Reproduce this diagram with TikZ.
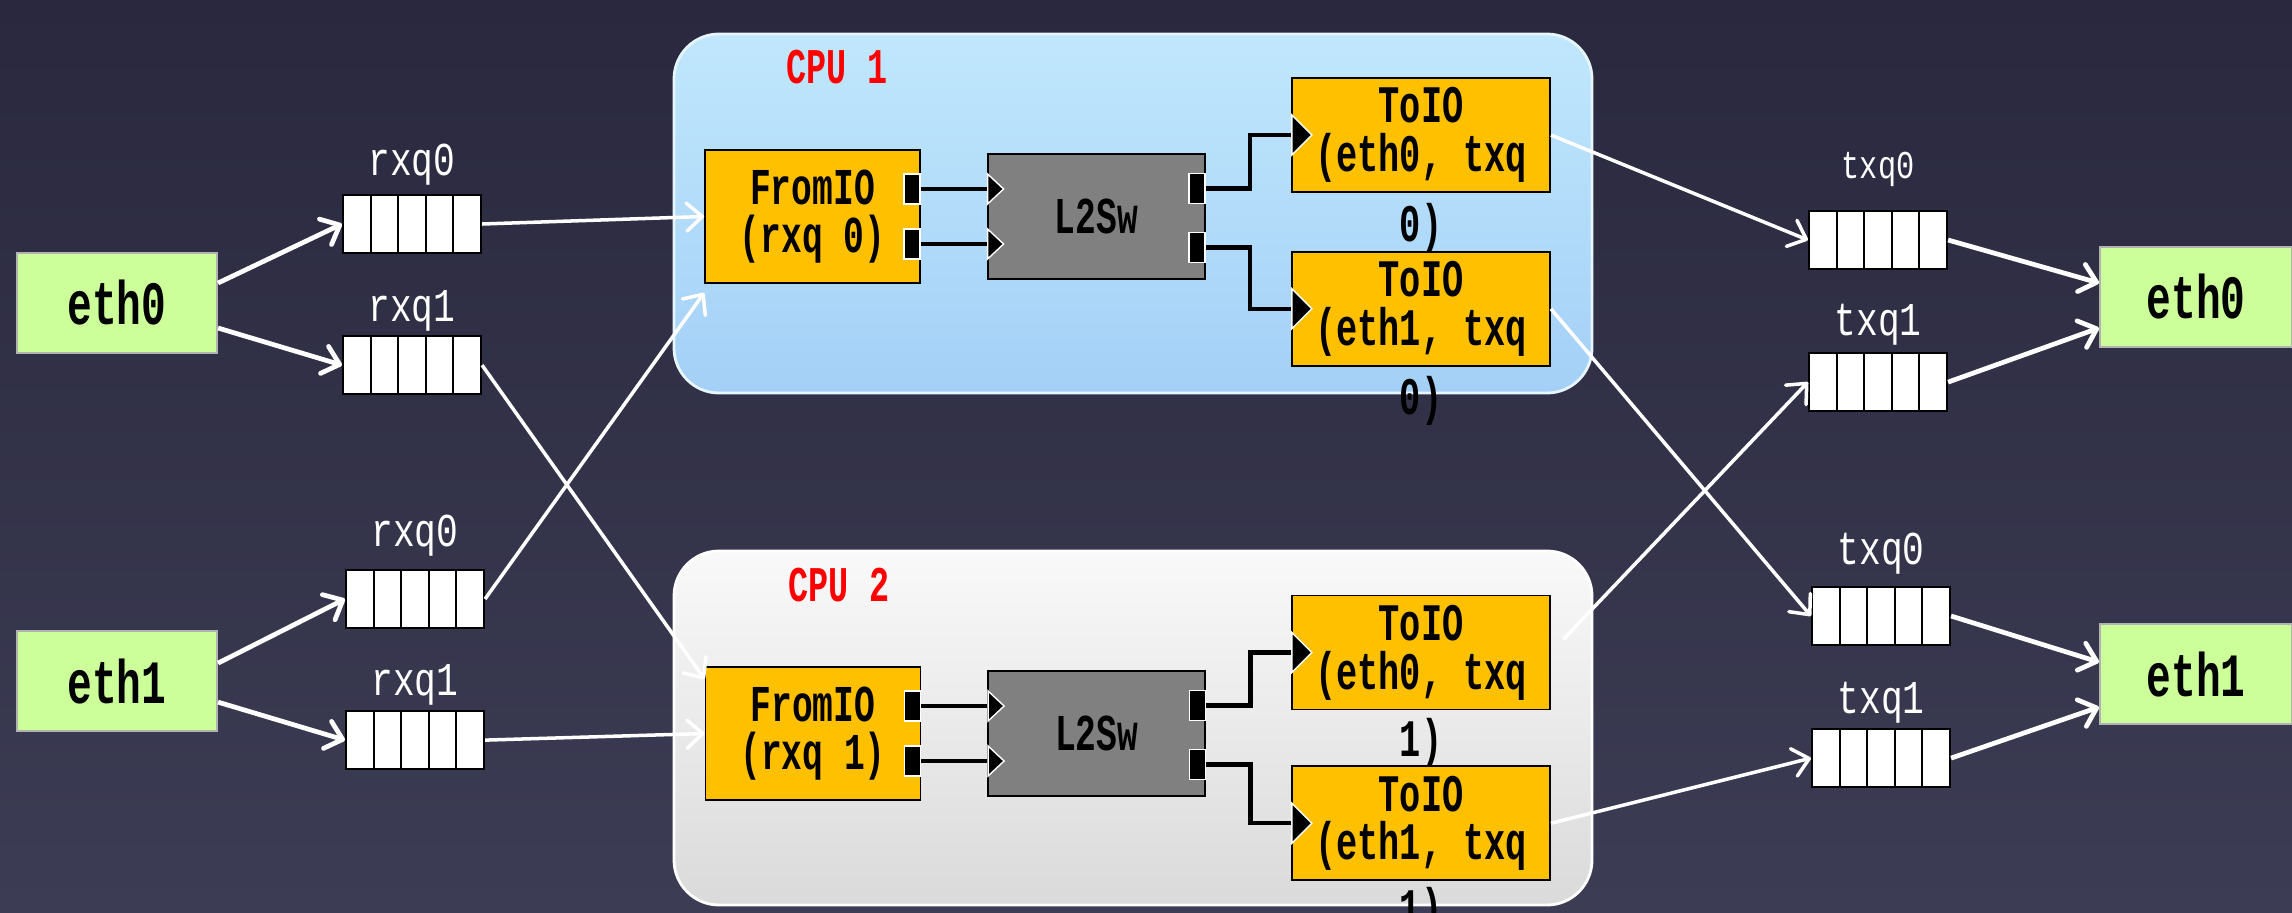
\documentclass[tikz,border=0pt]{standalone}
\usepackage{fontspec}
\setmainfont{Liberation Mono}[FakeStretch=0.67]
\newfontfamily\qfont{Liberation Mono}[FakeStretch=0.77]
\usetikzlibrary{arrows.meta,positioning,shapes.geometric}

\definecolor{bgtop}{RGB}{41,40,62}
\definecolor{bgbot}{RGB}{60,60,84}
\definecolor{cpuatop}{RGB}{192,231,252}
\definecolor{cpuabot}{RGB}{164,208,247}
\definecolor{cpubtop}{RGB}{249,249,249}
\definecolor{cpubbot}{RGB}{218,218,218}
\definecolor{elemorange}{RGB}{255,192,0}
\definecolor{ethgreen}{RGB}{204,255,153}

\begin{document}
\begin{tikzpicture}[>=Latex,node distance=0.8cm]
  \tikzstyle{eth}=[draw=gray!60,line width=0.6pt,fill=ethgreen,minimum width=2cm,minimum height=1cm,font=\bfseries\fontsize{17.5}{19}\selectfont]
  \tikzstyle{queue}=[draw=black,fill=white,line width=0.6pt,minimum width=1.38cm,minimum height=0.58cm,inner sep=0pt,
    path picture={\foreach \k in {1,...,4}
      \draw[line width=0.6pt] ([xshift=\k*0.276cm]path picture bounding box.south west) -- ([xshift=\k*0.276cm]path picture bounding box.north west);}]
  \tikzstyle{qlabel}=[text=white,inner sep=0pt,font=\qfont\fontsize{13.4}{15}\selectfont]
  \tikzstyle{cpubox}=[rounded corners=0.45cm,minimum width=9.18cm,line width=0.8pt]
  \tikzstyle{cpulabel}=[text=red,inner sep=0pt,font=\bfseries\fontsize{14.2}{16}\selectfont]
  \tikzstyle{elem}=[draw=black,line width=0.5pt,fill=elemorange,align=center,inner sep=0pt]
  \tikzstyle{fromio}=[elem,minimum width=2.15cm,minimum height=1.33cm,font=\bfseries\fontsize{14.7}{13.9}\selectfont]
  \tikzstyle{toio}=[elem,minimum width=2.58cm,minimum height=1.14cm,font=\bfseries\fontsize{15}{13.9}\selectfont]
  \tikzstyle{spill}=[inner sep=0pt,font=\bfseries\fontsize{15}{13.9}\selectfont]
  \tikzstyle{l2sw}=[draw=black,line width=0.5pt,fill=gray,minimum width=2.17cm,minimum height=1.25cm,font=\bfseries\fontsize{14.7}{13}\selectfont]
  \tikzstyle{port}=[draw=white,fill=black,line width=0.4pt,minimum width=0.16cm,minimum height=0.3cm,inner sep=0pt,anchor=east]
  \tikzstyle{inport}=[isosceles triangle,isosceles triangle stretches,draw=white,fill=black,line width=0.4pt,minimum width=0.3cm,minimum height=0.16cm,inner sep=0pt,anchor=west]
  \tikzstyle{bigin}=[inport,minimum width=0.4cm,minimum height=0.2cm]
  \tikzstyle{wire}=[draw=black,line width=1.2pt]
  \tikzstyle{flow}=[draw=white,line width=1pt,-{Straight Barb[length=4.5pt,width=8pt,round]}]
  \tikzstyle{ethflow}=[flow,line width=1.35pt]

  % background
  \useasboundingbox (0,0) rectangle (22.92,-9.12);
  \shade[top color=bgtop,bottom color=bgbot] (0,0) rectangle (22.92,-9.12);

  % the two cpus
  \node[cpubox,draw=cpuatop!40!white,top color=cpuatop,bottom color=cpuabot,minimum height=3.59cm] (cpu1) at (11.33,-2.135) {};
  \node[cpubox,draw=white,top color=cpubtop,bottom color=cpubbot,minimum height=3.54cm] (cpu2) at (11.33,-7.28) {};
  \node[cpulabel] (cpu1lab) at (8.37,-0.67) {CPU 1};
  \node[cpulabel] (cpu2lab) at (8.39,-5.85) {CPU 2};

  % interfaces
  \node[eth] (el0) at (1.17,-3.03) {eth0};
  \node[eth,below=2.76cm of el0] (el1) {eth1};
  \node[eth,minimum width=1.92cm] (er0) at (21.96,-2.97) {eth0};
  \node[eth,minimum width=1.92cm,below=2.75cm of er0] (er1) {eth1};

  % rx queues
  \node[queue] (rq0a) at (4.12,-2.24) {};
  \node[queue,below=0.81cm of rq0a] (rq1a) {};
  \node[queue] (rq0b) at (4.15,-5.99) {};
  \node[queue,below=0.81cm of rq0b] (rq1b) {};
  \node[qlabel,above=0.08cm of rq0a] (rq0alab) {rxq0};
  \node[qlabel,above=0.03cm of rq1a] (rq1alab) {rxq1};
  \node[qlabel,above=0.12cm of rq0b] (rq0blab) {rxq0};
  \node[qlabel,above=0.04cm of rq1b] (rq1blab) {rxq1};

  % tx queues
  \node[queue] (tq0a) at (18.78,-2.40) {};
  \node[queue,below=0.82cm of tq0a] (tq1a) {};
  \node[queue] (tq0b) at (18.81,-6.16) {};
  \node[queue,below=0.82cm of tq0b] (tq1b) {};
  \node[qlabel,font=\qfont\fontsize{11.2}{13}\selectfont,above=0.23cm of tq0a] (tq0alab) {txq0};
  \node[qlabel,above=0.06cm of tq1a] (tq1alab) {txq1};
  \node[qlabel,above=0.11cm of tq0b] (tq0blab) {txq0};
  \node[qlabel,above=0.04cm of tq1b] (tq1blab) {txq1};

  % cpu 1 elements
  \node[fromio] (fi1) at (8.125,-2.165) {FromIO\\(rxq 0)};
  \node[l2sw,right=0.66cm of fi1] (sw1) {L2Sw};
  \node[toio] (to1a) at (14.21,-1.35) {ToIO\\(eth0, txq};
  \node[toio,below=0.58cm of to1a] (to1b) {ToIO\\(eth1, txq};
  \node[spill,below=0.1cm of to1a] (to1arest) {0)};
  \node[spill,below=0.09cm of to1b] (to1brest) {0)};
  \node[port] (fp1a) at ([yshift=0.275cm]fi1.east) {};
  \node[port] (fp1b) at ([yshift=-0.275cm]fi1.east) {};
  \node[inport] (si1a) at (sw1.west |- fp1a) {};
  \node[inport] (si1b) at (sw1.west |- fp1b) {};
  \node[port] (sp1a) at ([yshift=0.28cm]sw1.east) {};
  \node[port] (sp1b) at ([yshift=-0.31cm]sw1.east) {};
  \node[bigin] (ti1a) at (to1a.west) {};
  \node[bigin] (ti1b) at (to1b.west) {};
  \draw[wire] (fp1a) -- (si1a);
  \draw[wire] (fp1b) -- (si1b);
  \draw[wire] (sp1a) -- ++(0.53,0) |- (ti1a);
  \draw[wire] (sp1b) -- ++(0.53,0) |- (ti1b);

  % cpu 2 elements
  \node[fromio] (fi2) at (8.13,-7.335) {FromIO\\(rxq 1)};
  \node[l2sw,right=0.66cm of fi2] (sw2) {L2Sw};
  \node[toio] (to2a) at (14.21,-6.525) {ToIO\\(eth0, txq};
  \node[toio,below=0.55cm of to2a] (to2b) {ToIO\\(eth1, txq};
  \node[spill,below=0.07cm of to2a] (to2arest) {1)};
  \node[spill,below=0.05cm of to2b] (to2brest) {1)};
  \node[port] (fp2a) at ([yshift=0.275cm]fi2.east) {};
  \node[port] (fp2b) at ([yshift=-0.275cm]fi2.east) {};
  \node[inport] (si2a) at (sw2.west |- fp2a) {};
  \node[inport] (si2b) at (sw2.west |- fp2b) {};
  \node[port] (sp2a) at ([yshift=0.28cm]sw2.east) {};
  \node[port] (sp2b) at ([yshift=-0.31cm]sw2.east) {};
  \node[bigin] (ti2a) at (to2a.west) {};
  \node[bigin] (ti2b) at (to2b.west) {};
  \draw[wire] (fp2a) -- (si2a);
  \draw[wire] (fp2b) -- (si2b);
  \draw[wire] (sp2a) -- ++(0.53,0) |- (ti2a);
  \draw[wire] (sp2b) -- ++(0.53,0) |- (ti2b);

  % receive side
  \draw[ethflow] ([yshift=0.2cm]el0.east) -- (rq0a.west);
  \draw[ethflow] ([yshift=-0.25cm]el0.east) -- (rq1a.west);
  \draw[ethflow] ([yshift=0.18cm]el1.east) -- (rq0b.west);
  \draw[ethflow] ([yshift=-0.21cm]el1.east) -- (rq1b.west);
  \draw[flow] (rq0a.east) -- (fi1.west);
  \draw[flow] (rq1a.east) -- ([yshift=-0.13cm]fi2.north west);
  \draw[flow] (rq0b.east) -- ([yshift=-0.09cm]fi1.south west);
  \draw[flow] (rq1b.east) -- (fi2.west);

  % transmit side
  \draw[flow] (to1a.east) -- (tq0a.west);
  \draw[flow] (to1b.east) -- (tq0b.west);
  \draw[flow,shorten <=0.18cm] (to2a.east) -- (tq1a.west);
  \draw[flow] (to2b.east) -- (tq1b.west);
  \draw[ethflow] (tq0a.east) -- ([yshift=0.14cm]er0.west);
  \draw[ethflow] (tq1a.east) -- ([yshift=-0.31cm]er0.west);
  \draw[ethflow] (tq0b.east) -- ([yshift=0.12cm]er1.west);
  \draw[ethflow] (tq1b.east) -- ([yshift=-0.33cm]er1.west);
\end{tikzpicture}
\end{document}
